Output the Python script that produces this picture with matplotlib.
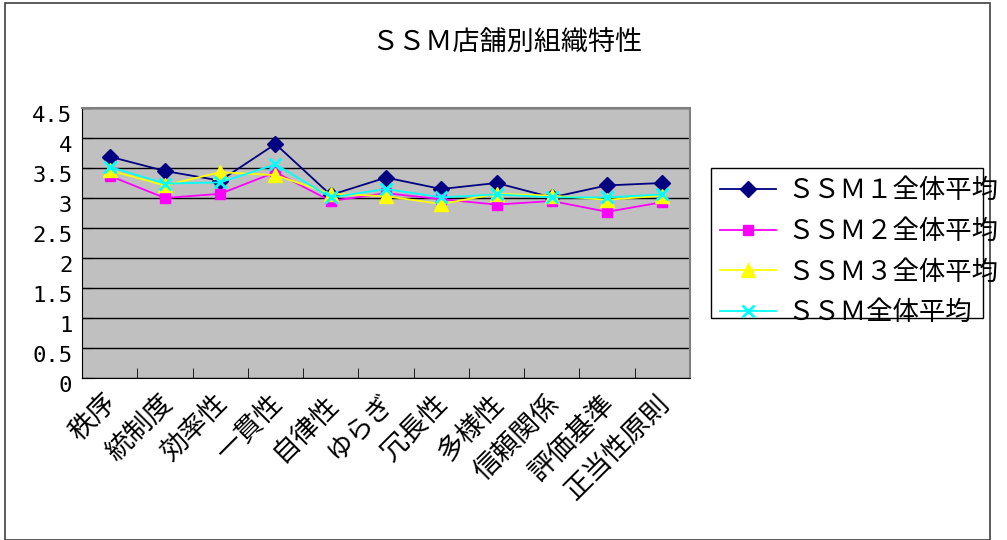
import numpy as np
import matplotlib.pyplot as plt
import matplotlib.transforms as mtransforms
from matplotlib.patches import Rectangle

plt.rcParams['font.family'] = ['Noto Sans CJK JP', 'DejaVu Sans']

categories = ['秩序', '統制度', '効率性', '一貫性', '自律性', 'ゆらぎ',
              '冗長性', '多様性', '信頼関係', '評価基準', '正当性原則']
ssm1 = [3.69, 3.45, 3.29, 3.90, 3.05, 3.34, 3.15, 3.25, 3.01, 3.21, 3.25]
ssm2 = [3.37, 3.00, 3.07, 3.43, 2.95, 3.08, 2.98, 2.89, 2.95, 2.77, 2.93]
ssm3 = [3.46, 3.21, 3.43, 3.38, 3.07, 3.03, 2.90, 3.07, 3.04, 2.97, 3.04]
ssm_all = [3.52, 3.24, 3.26, 3.56, 3.01, 3.15, 3.01, 3.06, 3.01, 3.01, 3.06]
labels = ['ＳＳＭ１全体平均', 'ＳＳＭ２全体平均', 'ＳＳＭ３全体平均', 'ＳＳＭ全体平均']
yticks = [0, 0.5, 1, 1.5, 2, 2.5, 3, 3.5, 4, 4.5]
ytick_labels = ['0', '0.5', '1', '1.5', '2', '2.5', '3', '3.5', '4', '4.5']

W, H = 1007, 540
fig = plt.figure(figsize=(W / 100, H / 100), dpi=100)
# outer chart frame
fig.patches.append(Rectangle((5 / W, 0), 985 / W, 1 - 3 / H,
                             transform=fig.transFigure, fill=False,
                             edgecolor='#404040', linewidth=1.2))

ax = fig.add_axes([82 / W, 1 - 378 / H, 608 / W, 270 / H])
ax.set_facecolor('#c0c0c0')
x = np.arange(len(categories))

styles = [
    dict(color='#000080', marker='D', markersize=8),
    dict(color='#ff00ff', marker='s', markersize=7.5),
    dict(color='#ffff00', marker='^', markersize=9.5),
    dict(color='#00ffff', marker='x', markersize=9, markeredgewidth=2),
]
for vals, lab, st in zip([ssm1, ssm2, ssm3, ssm_all], labels, styles):
    ax.plot(x, vals, linewidth=1.3, label=lab, **st)

ax.set_xlim(-0.5, len(categories) - 0.5)
ax.set_ylim(0, 4.5)
ax.set_yticks(yticks)
ax.set_yticklabels(ytick_labels, fontsize=16, family='DejaVu Sans Mono')
ax.yaxis.grid(True, color='black', linewidth=1)
ax.set_axisbelow(True)

ax.set_xticks(x)
ax.set_xticklabels(categories, fontsize=19.5, rotation=45, ha='right',
                   va='top', rotation_mode='anchor')
ax.set_xticks(np.arange(-0.5, len(categories)), minor=True)
ax.tick_params(axis='x', which='major', length=0, pad=8.5)
ax.tick_params(axis='x', which='minor', length=7, direction='in')
ax.tick_params(axis='y', length=7, direction='in', pad=7)

# nudge tick labels the way the chart lays them out
shift_y = mtransforms.ScaledTranslation(0, -6 / 100, fig.dpi_scale_trans)
for t in ax.get_yticklabels():
    t.set_transform(t.get_transform() + shift_y)
shift_x = mtransforms.ScaledTranslation(-6 / 100, 0, fig.dpi_scale_trans)
for t in ax.get_xticklabels():
    t.set_transform(t.get_transform() + shift_x)

for side in ['top', 'right']:
    ax.spines[side].set_color('#808080')
    ax.spines[side].set_linewidth(1.5)
for side in ['left', 'bottom']:
    ax.spines[side].set_color('black')

fig.text(507 / W, 1 - 42 / H, 'ＳＳＭ店舗別組織特性', fontsize=19.5,
         ha='center', va='center')

leg = fig.legend(loc='upper left', bbox_to_anchor=(711 / W, 1 - 168 / H),
                 fontsize=19, frameon=False, handlelength=2.1,
                 borderpad=0.35, labelspacing=0.52, handletextpad=0.45,
                 borderaxespad=0)
fig.patches.append(Rectangle((711 / W, 1 - 318 / H), 272 / W, 150 / H,
                             transform=fig.transFigure, fill=False,
                             edgecolor='black', linewidth=1))

fig.savefig('out.png', dpi=100)
